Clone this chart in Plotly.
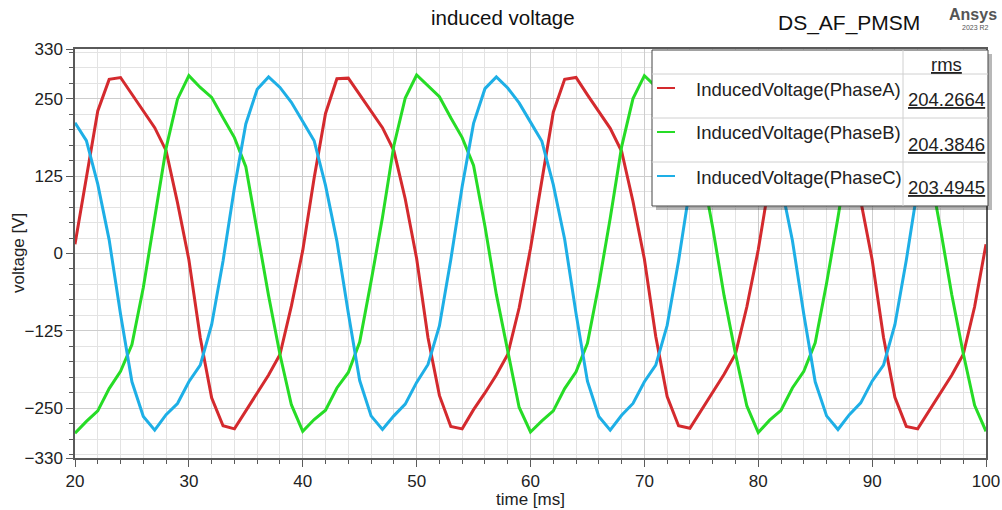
import plotly.graph_objects as go

# ---------------- data ----------------
time_ms = [20, 21, 22, 23, 24, 25, 26, 27, 28, 29,
           30, 31, 32, 33, 34, 35, 36, 37, 38, 39,
           40, 41, 42, 43, 44, 45, 46, 47, 48, 49,
           50, 51, 52, 53, 54, 55, 56, 57, 58, 59,
           60, 61, 62, 63, 64, 65, 66, 67, 68, 69,
           70, 71, 72, 73, 74, 75, 76, 77, 78, 79,
           80, 81, 82, 83, 84, 85, 86, 87, 88, 89,
           90, 91, 92, 93, 94, 95, 96, 97, 98, 99,
           100]

phase_a = [15, 120, 230, 281, 284, 257, 230, 203, 166, 82,
           -10, -136, -233, -278, -283, -254, -227, -196, -163, -85,
           5, 122, 226, 282, 283, 257, 230, 203, 166, 88,
           -8, -136, -229, -279, -283, -252, -225, -196, -163, -88,
           8, 121, 228, 281, 284, 256, 229, 202, 165, 84,
           -9, -134, -231, -278, -282, -253, -226, -195, -162, -86,
           6, 120, 229, 282, 283, 257, 230, 203, 166, 85,
           -10, -135, -232, -279, -283, -254, -226, -196, -163, -86,
           15]

phase_b = [-290, -271, -254, -218, -190, -147, -55, 58, 170, 249,
           287, 268, 252, 219, 187, 140, 38, -68, -163, -244,
           -287, -268, -253, -217, -192, -143, -45, 58, 174, 251,
           288, 270, 253, 219, 187, 142, 44, -66, -160, -248,
           -288, -270, -254, -218, -191, -145, -50, 57, 172, 250,
           287, 269, 252, 219, 186, 141, 42, -68, -162, -246,
           -289, -269, -253, -217, -190, -144, -48, 58, 171, 249,
           288, 268, 252, 218, 187, 140, 40, -67, -161, -245,
           -287]

phase_c = [211, 182, 112, 22, -98, -207, -263, -285, -260, -242,
           -207, -180, -115, -12, 106, 209, 265, 285, 268, 244,
           213, 182, 110, 20, -96, -205, -262, -284, -262, -243,
           -208, -179, -117, -10, 108, 210, 266, 285, 267, 243,
           212, 181, 111, 23, -97, -206, -263, -285, -261, -242,
           -207, -180, -116, -12, 107, 209, 265, 286, 268, 244,
           211, 182, 112, 21, -98, -207, -262, -284, -260, -241,
           -206, -180, -115, -11, 106, 209, 265, 285, 267, 244,
           212]

series_names = ["InducedVoltage(PhaseA)", "InducedVoltage(PhaseB)", "InducedVoltage(PhaseC)"]
rms_values = ["204.2664", "204.3846", "203.4945"]
y_tick_vals = [330, 250, 125, 0, -125, -250, -330]
x_tick_vals = [20, 30, 40, 50, 60, 70, 80, 90, 100]

# ---------------- styling ----------------
colors = ["#d42a2e", "#26dc26", "#1eafe6"]
FONT = "Liberation Sans, Arial, sans-serif"
W, H = 1002, 510
L, R, T, B = 75, 986, 49, 458


def px(x):
    return (x - L) / (R - L)


def py(y):
    return (B - y) / (B - T)


fig = go.Figure()
for name, ys, col in zip(series_names, [phase_a, phase_b, phase_c], colors):
    fig.add_trace(go.Scatter(x=time_ms, y=ys, name=name, mode="lines",
                             line=dict(color=col, width=3), hoverinfo="x+y+name"))

axis_common = dict(
    showline=True, mirror=True, linecolor="#5a5a5a", linewidth=1.5,
    ticks="outside", ticklen=7, tickcolor="#5a5a5a", tickwidth=1,
    showgrid=True, gridcolor="#cdcdcd", gridwidth=1, zeroline=False,
    automargin=False,
    tickfont=dict(family=FONT, size=17, color="#222"),
)

fig.update_xaxes(range=[20, 100], tickmode="array", tickvals=x_tick_vals,
                 minor=dict(tickmode="linear", tick0=20, dtick=2, ticks="outside", ticklen=4,
                            tickcolor="#5a5a5a", showgrid=True, gridcolor="#e3e3e3"),
                 **axis_common)
fig.update_yaxes(range=[-330, 330], tickmode="array", tickvals=y_tick_vals,
                 minor=dict(tickmode="linear", tick0=0, dtick=25, ticks="outside", ticklen=4,
                            tickcolor="#5a5a5a", showgrid=True, gridcolor="#e3e3e3"),
                 **axis_common)

shapes = []
annotations = []

# legend table (drawn like the Ansys report legend)
box_l, box_r, box_t, box_b = 652, 988, 50, 206
shapes.append(dict(type="rect", xref="paper", yref="paper", layer="above",
                   x0=px(box_l + 4), x1=px(box_r + 4), y0=py(box_b + 4), y1=py(box_t + 4),
                   fillcolor="rgba(0,0,0,0.28)", line=dict(width=0)))
shapes.append(dict(type="rect", xref="paper", yref="paper", layer="above",
                   x0=px(box_l), x1=px(box_r), y0=py(box_b), y1=py(box_t),
                   fillcolor="white", line=dict(color="#444", width=1)))
shapes.append(dict(type="line", xref="paper", yref="paper", layer="above",
                   x0=px(903), x1=px(903), y0=py(box_b), y1=py(box_t),
                   line=dict(color="#d0d0d0", width=1)))
for yline in [74, 118, 162]:
    shapes.append(dict(type="line", xref="paper", yref="paper", layer="above",
                       x0=px(box_l), x1=px(box_r), y0=py(yline), y1=py(yline),
                       line=dict(color="#d0d0d0", width=1)))

annotations.append(dict(text="<u>rms</u>", xref="paper", yref="paper", x=px(946), y=py(65),
                        xanchor="center", yanchor="middle", showarrow=False,
                        font=dict(family=FONT, size=18.5, color="#222")))
row_y = [88, 132, 176]
for i, (name, rv, col) in enumerate(zip(series_names, rms_values, colors)):
    yy = row_y[i]
    shapes.append(dict(type="line", xref="paper", yref="paper", layer="above",
                       x0=px(657), x1=px(675), y0=py(yy), y1=py(yy),
                       line=dict(color=col, width=2)))
    annotations.append(dict(text=name, xref="paper", yref="paper", x=px(694), y=py(yy + 1),
                            xanchor="left", yanchor="middle", showarrow=False,
                            font=dict(family=FONT, size=18.5, color="#222")))
    annotations.append(dict(text="<u>" + rv + "</u>", xref="paper", yref="paper", x=px(906),
                            y=py(yy + 12), xanchor="left", yanchor="middle", showarrow=False,
                            font=dict(family=FONT, size=18.5, color="#222")))

# titles
annotations.append(dict(text="induced voltage", xref="paper", yref="paper", x=px(503), y=py(18),
                        xanchor="center", yanchor="middle", showarrow=False,
                        font=dict(family=FONT, size=20.5, color="#111")))
annotations.append(dict(text="DS_AF_PMSM", xref="paper", yref="paper", x=px(849), y=py(23),
                        xanchor="center", yanchor="middle", showarrow=False,
                        font=dict(family=FONT, size=21, color="#111")))
annotations.append(dict(text="<b>Ansys</b>", xref="paper", yref="paper", x=px(973), y=py(14),
                        xanchor="center", yanchor="middle", showarrow=False,
                        font=dict(family=FONT, size=16, color="#555")))
annotations.append(dict(text="2023 R2", xref="paper", yref="paper", x=px(975), y=py(28),
                        xanchor="center", yanchor="middle", showarrow=False,
                        font=dict(family=FONT, size=7, color="#555")))
annotations.append(dict(text="voltage [V]", xref="paper", yref="paper", x=px(18), y=py(253),
                        xanchor="center", yanchor="middle", textangle=-90, showarrow=False,
                        font=dict(family=FONT, size=17, color="#222")))
annotations.append(dict(text="time [ms]", xref="paper", yref="paper", x=px(530), y=py(499),
                        xanchor="center", yanchor="middle", showarrow=False,
                        font=dict(family=FONT, size=17, color="#222")))

fig.update_layout(
    width=W, height=H, autosize=False,
    margin=dict(l=L, r=W - R, t=T, b=H - B, pad=0, autoexpand=False),
    paper_bgcolor="white", plot_bgcolor="white",
    showlegend=False,
    shapes=shapes, annotations=annotations,
    font=dict(family=FONT, size=17, color="#222"),
)

fig.write_html("out.html")
